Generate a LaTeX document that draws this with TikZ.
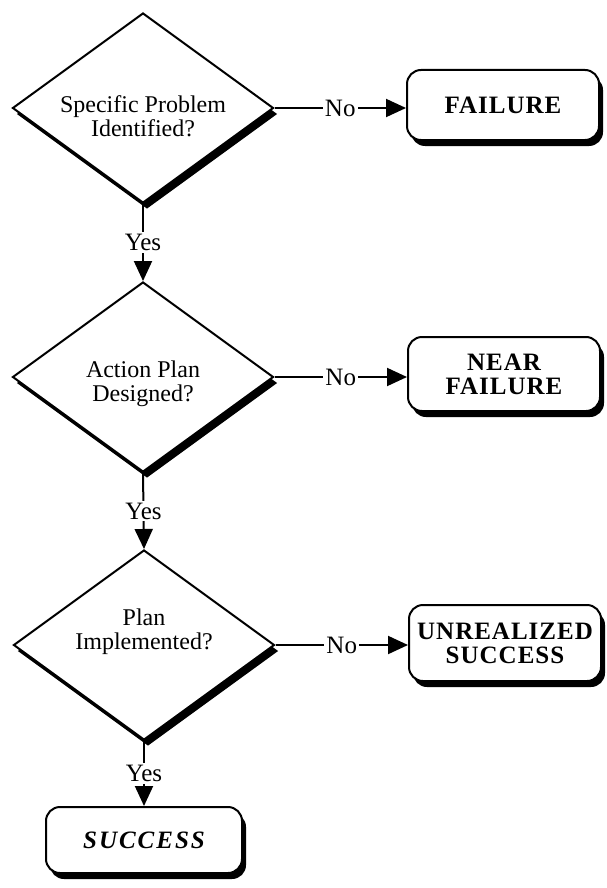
\documentclass[tikz,border=0pt]{standalone}
\usepackage{fontspec}
\setmainfont{Liberation Serif}
\usetikzlibrary{shapes.geometric,shadows,arrows.meta}

\tikzset{
  shade/.style={drop shadow={shadow xshift=4pt,shadow yshift=-6pt,fill=black,opacity=1}},
  dia/.style={diamond,draw,fill=white,line width=2pt,
    minimum width=261pt,minimum height=190pt,inner sep=0pt,shade},
  dtext/.style={align=center,inner sep=0pt,font=\fontsize{24}{24}\selectfont},
  endbox/.style={rectangle,rounded corners=14pt,draw,fill=white,line width=2pt,
    minimum width=192pt,minimum height=72pt,align=center,
    font=\fontsize{25}{24}\selectfont\bfseries\addfontfeatures{LetterSpace=4},shade},
  lbl/.style={fill=white,inner sep=2pt,font=\fontsize{25}{25}\selectfont},
  flow/.style={line width=2pt,-{Triangle[length=20pt,width=18pt]}}
}

\begin{document}
\begin{tikzpicture}[x=1pt,y=-1pt]
    \useasboundingbox (0,0) rectangle (606,888);

    % Decisions
    \node[dia] (d1) at (143,108) {};
    \node[dtext] (t1) at (143,116) {Specific Problem\\Identified?};
    \node[dia] (d2) at (143,377) {};
    \node[dtext] (t2) at (143,384) {Action Plan\\Designed?};
    \node[dia] (d3) at (144,645) {};
    \node[dtext] (t3) at (144,632) {Plan\\Implemented?};

    % Outcomes
    \node[endbox,minimum height=70pt] (fail) at (503,105) {FAILURE};
    \node[endbox,minimum height=74pt] (near) at (504,374) {NEAR\\FAILURE};
    \node[endbox,minimum height=76pt] (unreal) at (505,643) {UNREALIZED\\SUCCESS};
    \node[endbox,minimum width=196pt,minimum height=66pt] (succ) at (144,840)
        {\itshape\addfontfeatures{LetterSpace=8}SUCCESS};

    % Yes branches
    \draw[flow] (d1.south) -- node[lbl] (y1) {Yes} (d2.north);
    \draw[flow] (d2.south) -- node[lbl] (y2) {Yes} (d3.north);
    \draw[flow] (d3.south) -- node[lbl] (y3) {Yes} (succ.north);

    % No branches
    \draw[flow] (d1.east) -- node[lbl] (n1) {No} (d1.east -| fail.west);
    \draw[flow] (d2.east) -- node[lbl] (n2) {No} (d2.east -| near.west);
    \draw[flow] (d3.east) -- node[lbl] (n3) {No} (d3.east -| unreal.west);
\end{tikzpicture}
\end{document}
